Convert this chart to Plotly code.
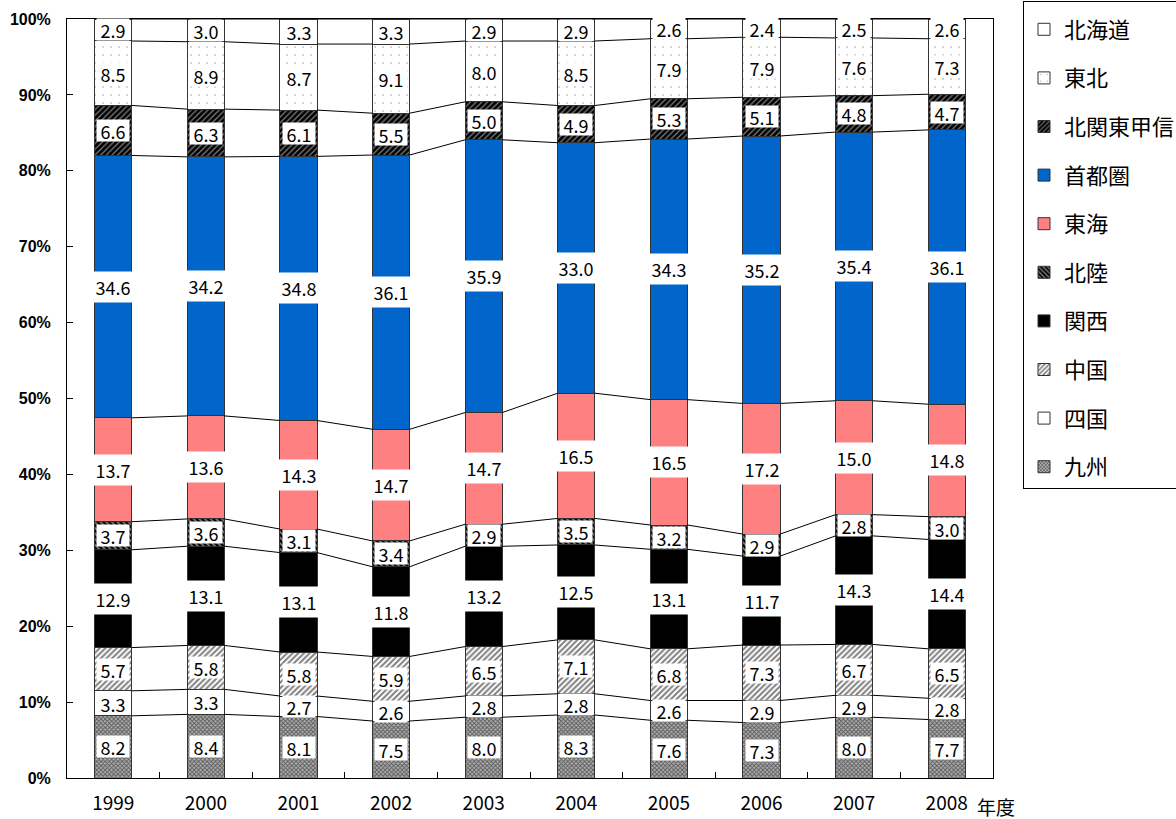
import plotly.graph_objects as go

years = ['1999', '2000', '2001', '2002', '2003', '2004', '2005', '2006', '2007', '2008']

# bottom to top of stack
regions = ['九州', '四国', '中国', '関西', '北陸', '東海', '首都圏', '北関東甲信', '東北', '北海道']
kyushu = [8.2, 8.4, 8.1, 7.5, 8.0, 8.3, 7.6, 7.3, 8.0, 7.7]
shikoku = [3.3, 3.3, 2.7, 2.6, 2.8, 2.8, 2.6, 2.9, 2.9, 2.8]
chugoku = [5.7, 5.8, 5.8, 5.9, 6.5, 7.1, 6.8, 7.3, 6.7, 6.5]
kansai = [12.9, 13.1, 13.1, 11.8, 13.2, 12.5, 13.1, 11.7, 14.3, 14.4]
hokuriku = [3.7, 3.6, 3.1, 3.4, 2.9, 3.5, 3.2, 2.9, 2.8, 3.0]
tokai = [13.7, 13.6, 14.3, 14.7, 14.7, 16.5, 16.5, 17.2, 15.0, 14.8]
shutoken = [34.6, 34.2, 34.8, 36.1, 35.9, 33.0, 34.3, 35.2, 35.4, 36.1]
kitakanto = [6.6, 6.3, 6.1, 5.5, 5.0, 4.9, 5.3, 5.1, 4.8, 4.7]
tohoku = [8.5, 8.9, 8.7, 9.1, 8.0, 8.5, 7.9, 7.9, 7.6, 7.3]
hokkaido = [2.9, 3.0, 3.3, 3.3, 2.9, 2.9, 2.6, 2.4, 2.5, 2.6]

series = [kyushu, shikoku, chugoku, kansai, hokuriku, tokai, shutoken, kitakanto, tohoku, hokkaido]

styles = {
    '九州': dict(color='white', pattern=dict(shape='x', fgcolor='black', bgcolor='#b0b0b0', size=3, solidity=0.5)),
    '四国': dict(color='white'),
    '中国': dict(color='white', pattern=dict(shape='/', fgcolor='black', bgcolor='white', size=4, solidity=0.5)),
    '関西': dict(color='black'),
    '北陸': dict(color='black', pattern=dict(shape='\\', fgcolor='white', bgcolor='black', size=4, solidity=0.45)),
    '東海': dict(color='#FF8080'),
    '首都圏': dict(color='#0066CC'),
    '北関東甲信': dict(color='black', pattern=dict(shape='/', fgcolor='white', bgcolor='black', size=4, solidity=0.3)),
    '東北': dict(color='white', pattern=dict(shape='.', fgcolor='#333333', bgcolor='white', size=8, solidity=0.03)),
    '北海道': dict(color='white'),
}

n = len(years)
xs = list(range(n))
totals = [sum(s[i] for s in series) for i in range(n)]
norm = [[s[i] / totals[i] * 100 for i in range(n)] for s in series]

fig = go.Figure()
BW = 0.4
for k, (name, vals) in enumerate(zip(regions, norm)):
    st = styles[name]
    marker = dict(color=st['color'], line=dict(color='#333333', width=1))
    if 'pattern' in st:
        marker['pattern'] = st['pattern']
    fig.add_trace(go.Bar(x=xs, y=vals, name=name, width=BW, marker=marker,
                         legendgroup=name, legendrank=100 - k, hoverinfo='skip'))

# series lines between bars
cum = [0.0] * n
levels = []
for vals in norm:
    cum = [c + v for c, v in zip(cum, vals)]
    levels.append(cum[:])
for lev in levels:
    lx, ly = [], []
    for i in range(n - 1):
        lx += [xs[i] + BW / 2, xs[i + 1] - BW / 2, None]
        ly += [lev[i], lev[i + 1], None]
    fig.add_trace(go.Scatter(x=lx, y=ly, mode='lines', line=dict(color='black', width=1),
                             showlegend=False, hoverinfo='skip'))

# data labels
annotations = []
base = [0.0] * n
for raw, vals in zip(series, norm):
    for i in range(n):
        txt = f'{raw[i]:.1f}'
        big = len(txt) > 3
        annotations.append(dict(
            x=xs[i], y=base[i] + vals[i] / 2, xref='x', yref='y', text=txt,
            showarrow=False, bgcolor='white', borderpad=0,
            width=44 if big else 32, height=30 if big else 21,
            font=dict(family='Noto Sans CJK JP', size=18, color='black'),
            align='center', valign='middle'))
    base = [b + v for b, v in zip(base, vals)]

annotations.append(dict(x=(975 - 67) / 926, y=(778 - 806) / 759, xref='paper', yref='paper',
                        text='年度', showarrow=False, xanchor='left', yanchor='middle',
                        font=dict(family='Noto Sans CJK JP', size=19, color='black')))

fig.update_layout(
    width=1176, height=819,
    margin=dict(l=67, r=183, t=19, b=41, autoexpand=False),
    paper_bgcolor='white', plot_bgcolor='white',
    barmode='stack',
    annotations=annotations,
    showlegend=True,
    legend=dict(x=(1023 - 67) / 926, y=(778 - 1) / 759, xanchor='left', yanchor='top',
                bordercolor='black', borderwidth=1, bgcolor='white',
                traceorder='grouped', tracegroupgap=17, maxheight=1.0,
                title=dict(text=' ', font=dict(size=5)),
                font=dict(family='Noto Sans CJK JP', size=22, color='black'),
                itemwidth=30),
    xaxis=dict(range=[-0.5, n - 0.5], tickmode='array', tickvals=xs, ticktext=years,
               ticks='', showgrid=False, zeroline=False,
               showline=True, linecolor='black', linewidth=1, mirror=True,
               tickfont=dict(family='Noto Sans CJK JP', size=19, color='black'),
               ticklabelstandoff=8,
               minor=dict(tickmode='array', tickvals=[i + 0.5 for i in range(n - 1)],
                          ticks='inside', ticklen=6, tickcolor='black', tickwidth=1)),
    yaxis=dict(range=[0, 100], dtick=10, ticksuffix='%', ticks='inside', ticklen=6,
               tickcolor='black', showgrid=False, zeroline=False,
               showline=True, linecolor='black', linewidth=1, mirror=True,
               tickfont=dict(family='Liberation Sans', size=16, color='black', weight='bold'),
               ticklabelstandoff=12),
)

fig.write_html('out.html')
